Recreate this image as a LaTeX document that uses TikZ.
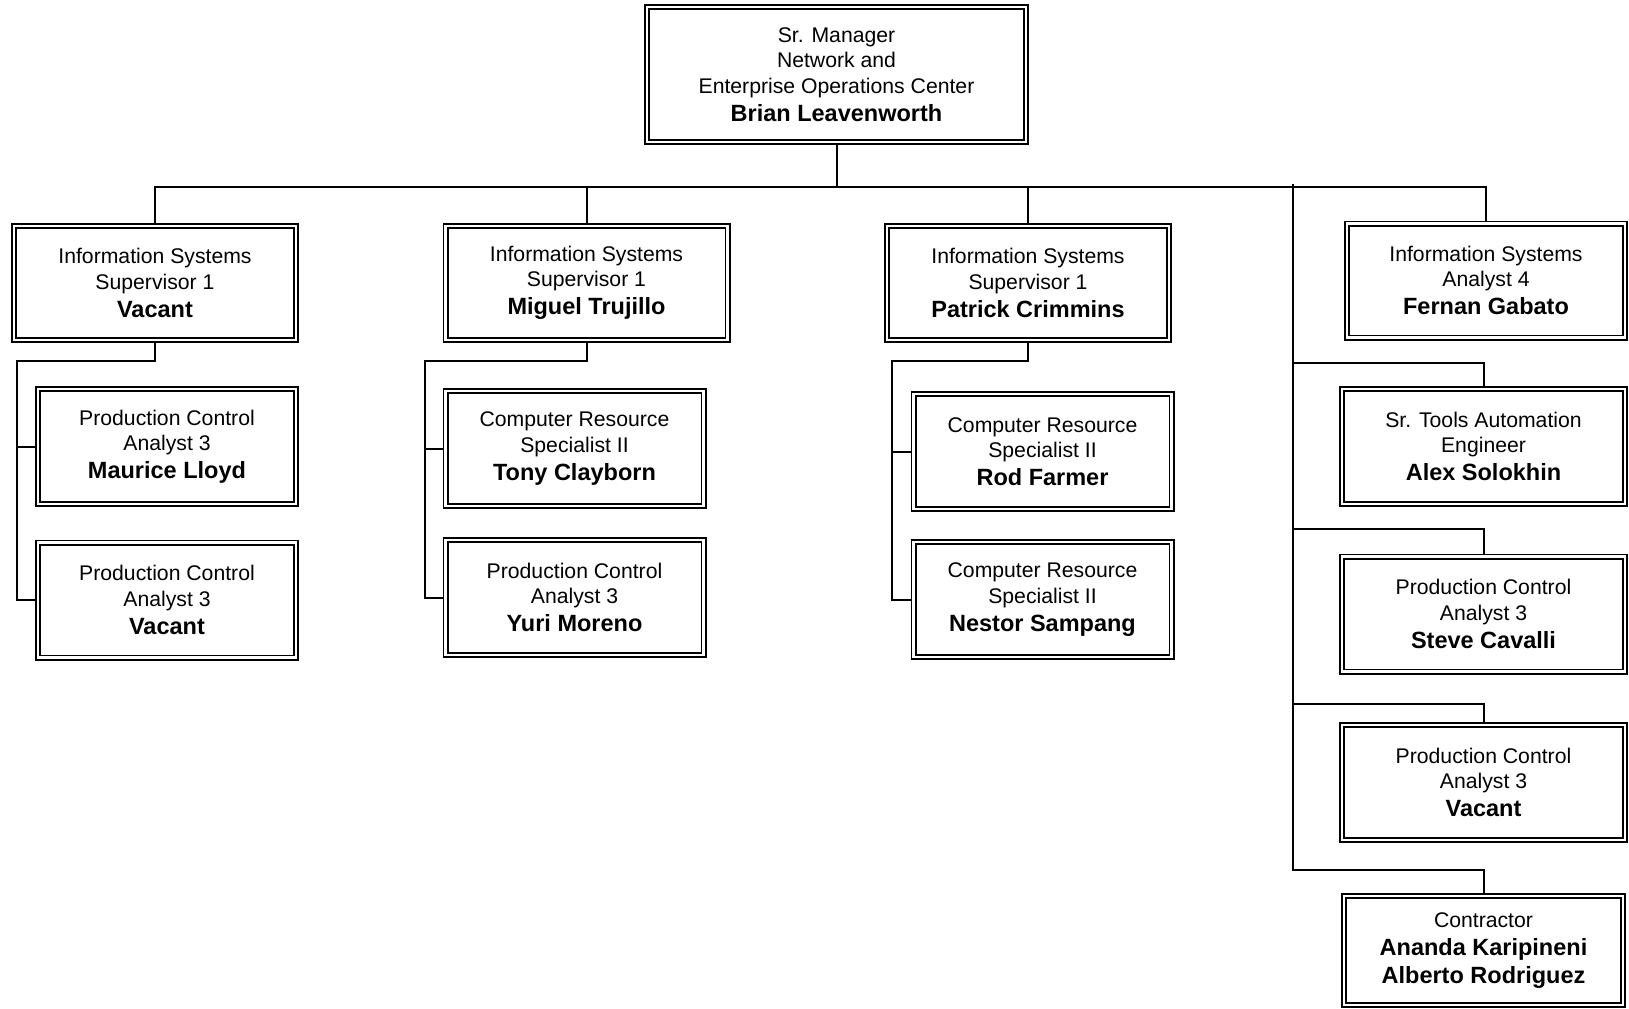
\documentclass[tikz,border=0pt]{standalone}
\usepackage{fontspec}
\setmainfont{Liberation Sans}
\newcommand{\who}[1]{{\fontsize{11.75}{14}\selectfont\bfseries #1}}

\begin{document}
\begin{tikzpicture}[x=0.5pt, y=-0.5pt,
  box/.style={draw, double, line width=0.8pt, double distance=1.4pt,
    align=center, inner sep=0pt, outer sep=1.5pt,
    font=\fontsize{10.6}{12.7}\selectfont},
  head/.style={box, minimum width=141pt, minimum height=57pt},
  staff/.style={box, minimum width=129pt, minimum height=57.5pt},
  rstaff/.style={box, minimum width=141.5pt, minimum height=57.5pt},
  link/.style={line width=1pt}]
  \useasboundingbox (0,0) rectangle (1629,1008);
  \clip (0,0) rectangle (1629,1008);

  \node[box, minimum width=189.5pt, minimum height=67.5pt] (mgr) at (836.5,74.5)
    {Sr. Manager\\Network and\\Enterprise Operations Center\\[1.3pt]\who{Brian Leavenworth}};

  \node[head] (supA) at (155,283) {Information Systems\\Supervisor 1\\[1.3pt]\who{Vacant}};
  \node[head] (supB) at (586.5,283) {Information Systems\\Supervisor 1\\[1.3pt]\who{Miguel Trujillo}};
  \node[head] (supC) at (1028,283) {Information Systems\\Supervisor 1\\[1.3pt]\who{Patrick Crimmins}};
  \node[head, minimum width=139pt] (anaD) at (1486,280.5) {Information Systems\\Analyst 4\\[1.3pt]\who{Fernan Gabato}};

  \node[staff] (pcA1) at (167,446.5) {Production Control\\Analyst 3\\[1.3pt]\who{Maurice Lloyd}};
  \node[staff] (pcA2) at (167,600) {Production Control\\Analyst 3\\[1.3pt]\who{Vacant}};
  \node[staff] (crB1) at (574.5,448.5) {Computer Resource\\Specialist II\\[1.3pt]\who{Tony Clayborn}};
  \node[staff] (pcB2) at (574.5,597.5) {Production Control\\Analyst 3\\[1.3pt]\who{Yuri Moreno}};
  \node[staff] (crC1) at (1042.5,451.5) {Computer Resource\\Specialist II\\[1.3pt]\who{Rod Farmer}};
  \node[staff] (crC2) at (1042.5,599.5) {Computer Resource\\Specialist II\\[1.3pt]\who{Nestor Sampang}};

  \node[rstaff] (toolD) at (1483.5,446.5) {Sr. Tools Automation\\Engineer\\[1.3pt]\who{Alex Solokhin}};
  \node[rstaff] (pcD2) at (1483.5,614) {Production Control\\Analyst 3\\[1.3pt]\who{Steve Cavalli}};
  \node[rstaff] (pcD3) at (1483.5,782.5) {Production Control\\Analyst 3\\[1.3pt]\who{Vacant}};
  \node[box, minimum width=139.5pt, minimum height=54.5pt] (con) at (1483.5,950.5)
    {Contractor\\[1.3pt]\who{Ananda Karipineni}\\[1.3pt]\who{Alberto Rodriguez}};

  \coordinate (bus) at (836.5,187);
  \draw[link] (mgr.south) -- (bus);
  \draw[link] (supA.north) |- (anaD.north |- bus) -- (anaD.north);
  \draw[link] (supB.north) -- (supB.north |- bus);
  \draw[link] (supC.north) -- (supC.north |- bus);

  \coordinate (trkA) at (17,361);
  \draw[link] (supA.south) |- (trkA) |- (pcA2.west);
  \draw[link] (trkA |- pcA1.west) -- (pcA1.west);

  \coordinate (trkB) at (425,361);
  \draw[link] (supB.south) |- (trkB) |- (pcB2.west);
  \draw[link] (trkB |- crB1.west) -- (crB1.west);

  \coordinate (trkC) at (892,361);
  \draw[link] (supC.south) |- (trkC) |- (crC2.west);
  \draw[link] (trkC |- crC1.west) -- (crC1.west);

  \coordinate (trkD) at (1292.5,184);
  \coordinate (jD1) at (1292.5,363);
  \coordinate (jD2) at (1292.5,529);
  \coordinate (jD3) at (1292.5,704);
  \coordinate (jD4) at (1292.5,869.5);
  \draw[link] (trkD) -- (jD4) -| (con.north);
  \draw[link] (jD1) -| (toolD.north);
  \draw[link] (jD2) -| (pcD2.north);
  \draw[link] (jD3) -| (pcD3.north);
\end{tikzpicture}
\end{document}
